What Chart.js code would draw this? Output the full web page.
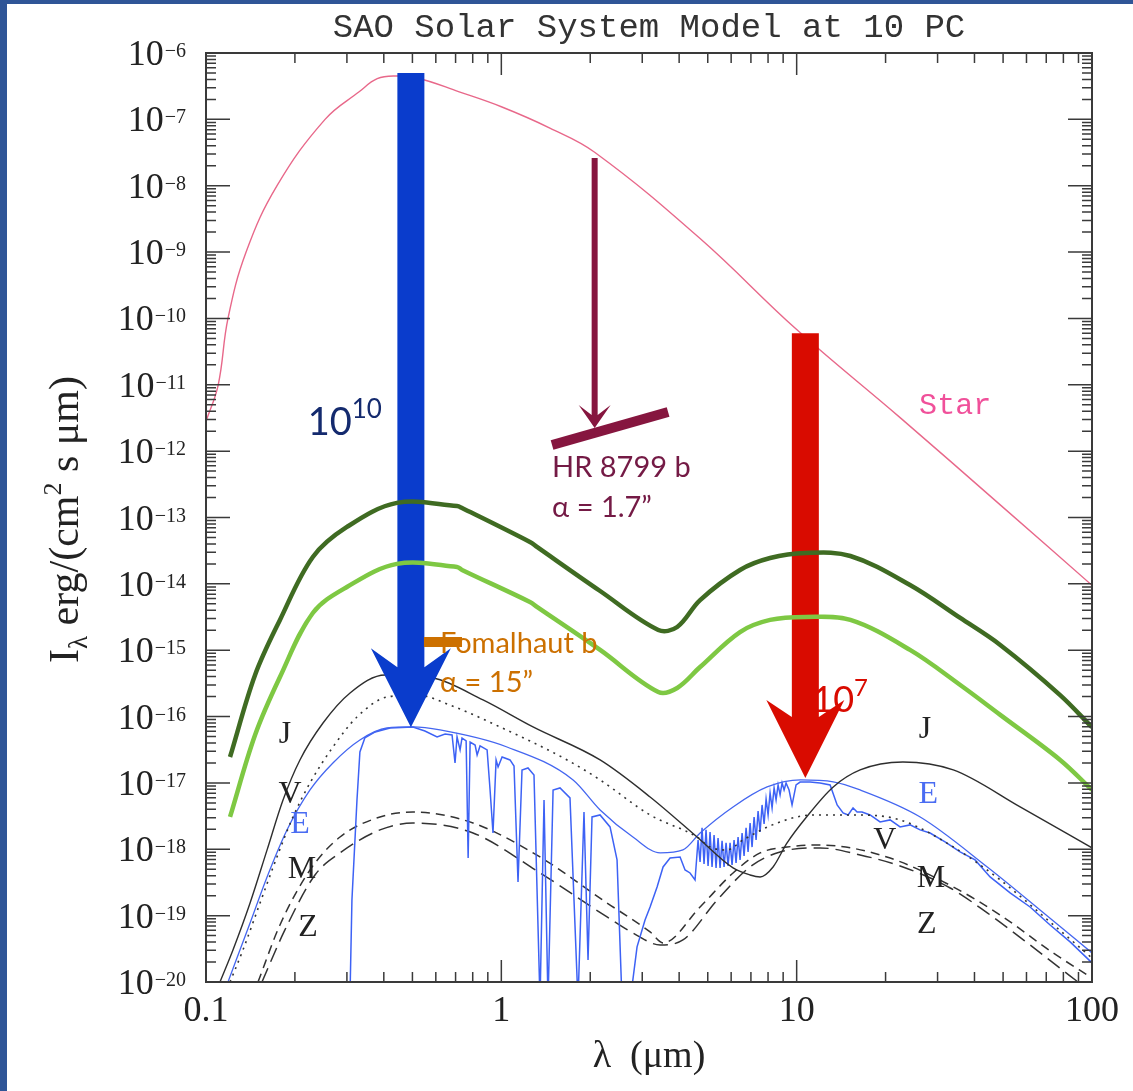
<!DOCTYPE html>
<html>
<head>
<meta charset="utf-8">
<title>SAO Solar System Model at 10 PC</title>
<script src="https://cdn.jsdelivr.net/npm/chart.js@4.4.1/dist/chart.umd.min.js"></script>
<style>
  html, body { margin: 0; padding: 0; background: #fff; }
  #wrap { position: relative; width: 1133px; height: 1091px; overflow: hidden; background: #fff; }
  #sedChart { position: absolute; left: 0; top: 0; }
  #edgeLeft { position: absolute; left: 0; top: 0; width: 7px; height: 1091px; background: #2f5597; }
  #edgeTop { position: absolute; left: 0; top: 0; width: 1133px; height: 4px; background: #2f5597; }
</style>
</head>
<body>
<div id="wrap">
  <canvas id="sedChart" width="1133" height="1091"></canvas>
  <div id="edgeLeft"></div>
  <div id="edgeTop"></div>
</div>
<script>
// axes
const xDecades = [0.1, 1, 10, 100];
const xTickLabels = ['0.1', '1', '10', '100'];
const yExponents = [-20, -19, -18, -17, -16, -15, -14, -13, -12, -11, -10, -9, -8, -7, -6];

// star (pink)
const starWl = [0.1, 0.11, 0.1187, 0.1367, 0.174, 0.253, 0.33, 0.38, 0.44, 0.52, 0.72, 1.0, 1.46, 2.07, 4.71, 10.0, 22.4, 48.9, 100];
const starFlux = [2.8e-12, 1.0e-11, 1.0e-10, 1.0e-9, 1.0e-8, 1.0e-7, 2.6e-7, 4.1e-7, 4.5e-7, 4.2e-7, 2.6e-7, 1.55e-7, 7.4e-8, 3.2e-8, 1.6e-9, 6.8e-11, 3.2e-12, 1.55e-13, 9.5e-15];

// overlay planet curves (green)
const greenWl = [0.1206, 0.1466, 0.178, 0.230, 0.300, 0.443, 0.708, 0.736, 1.25, 1.32, 2.16, 3.4, 3.94, 4.71, 6.43, 8.13, 10.7, 15.2, 24.2, 35.8, 48.9, 78.0, 100];
const darkGreenFlux = [2.46e-17, 4.24e-16, 2.86e-15, 2.54e-14, 7.2e-14, 1.66e-13, 1.49e-13, 1.39e-13, 4.28e-14, 3.6e-14, 7.8e-15, 2.02e-15, 2.24e-15, 5.7e-15, 1.62e-14, 2.45e-14, 2.92e-14, 2.63e-14, 9.6e-15, 3.06e-15, 1.2e-15, 2.11e-16, 6.9e-17];
const lightGreenFlux = [3.07e-18, 5.28e-17, 3.95e-16, 3.64e-15, 8.97e-15, 2.0e-14, 1.8e-14, 1.62e-14, 5.33e-15, 4.49e-15, 1.01e-15, 2.35e-16, 2.7e-16, 5.58e-16, 1.88e-15, 2.86e-15, 3.17e-15, 2.86e-15, 1.01e-15, 2.99e-16, 1.06e-16, 2.22e-17, 7.83e-18];

// J (solid)
const jupiterWl = [0.1115, 0.1234, 0.141, 0.161, 0.1823, 0.208, 0.249, 0.3074, 0.404, 0.587, 0.867, 1.28, 2.16, 3.19, 4.60, 6.09, 6.95, 7.52, 8.32, 9.28, 10.8, 13.3, 16.4, 22.9, 33.9, 57.1, 100];
const jupiterFlux = [1.0e-20, 3.04e-20, 1.55e-19, 9.8e-19, 5.53e-18, 2.22e-17, 8.0e-17, 2.27e-16, 4.24e-16, 3.82e-16, 1.78e-16, 6.97e-17, 2.22e-17, 6.14e-18, 1.53e-18, 5.23e-19, 4.1e-19, 3.83e-19, 5.42e-19, 1.25e-18, 3.07e-18, 8.7e-18, 1.57e-17, 2.07e-17, 1.57e-17, 4.35e-18, 1.05e-18];

// V (dotted)
const venusWl = [0.1206, 0.1334, 0.1524, 0.1739, 0.197, 0.225, 0.269, 0.3245, 0.41, 0.518, 0.670, 0.99, 1.67, 2.16, 3.19, 4.60, 5.09, 5.81, 6.58, 8.58, 11.4, 16.4, 22.4, 33.1, 48.9, 72.1, 100];
const venusFlux = [1.0e-20, 3.04e-20, 1.55e-19, 7.66e-19, 3.07e-18, 1.0e-17, 3.48e-17, 9.86e-17, 1.97e-16, 2.11e-16, 1.49e-16, 6.97e-17, 2.22e-17, 1.11e-17, 3.29e-18, 1.53e-18, 1.08e-18, 9.77e-19, 1.38e-18, 2.49e-18, 3.29e-18, 3.29e-18, 2.77e-18, 1.16e-18, 3.45e-19, 8.04e-20, 2.3e-20];

// E (blue, smooth envelope)
const earthWl = [0.1187, 0.141, 0.161, 0.188, 0.225, 0.269, 0.332, 0.41, 0.502, 0.62, 1.045, 1.75, 2.16, 2.79, 3.45, 4.12, 4.71, 6.09, 7.94, 10.3, 13.3, 16.4, 26.2, 44.2, 66.7, 100];
const earthFlux = [1.0e-20, 7.76e-20, 3.83e-19, 1.95e-18, 7.83e-18, 2.0e-17, 4.44e-17, 6.73e-17, 6.97e-17, 6.28e-17, 3.48e-17, 1.11e-17, 3.92e-18, 1.53e-18, 8.81e-19, 9.77e-19, 1.76e-18, 4.35e-18, 8.69e-18, 1.11e-17, 1.04e-17, 7.83e-18, 3.07e-18, 5.42e-19, 1.22e-19, 2.74e-20];

// E (blue, spectrum with absorption bands)
const earthSpecWl = [0.307, 0.312, 0.3245, 0.332, 0.345, 0.374, 0.42, 0.502, 0.551, 0.606,
  0.645, 0.681, 0.697, 0.708, 0.725, 0.736, 0.760, 0.772, 0.784, 0.815,
  0.828, 0.847, 0.895, 0.916, 0.937, 0.960, 0.975, 1.006, 1.07, 1.104,
  1.139, 1.175, 1.231, 1.29, 1.352, 1.395, 1.439, 1.497, 1.58, 1.708,
  1.818, 1.905, 1.966, 2.028, 2.159, 2.334, 2.465, 2.563, 2.728, 2.881,
  3.066, 3.189, 3.368, 3.529, 3.727, 4.029, 4.189, 4.355, 4.528, 4.636,
  4.709, 4.782, 4.857, 4.933, 5.012, 5.090, 5.170, 5.252, 5.334, 5.418,
  5.503, 5.590, 5.677, 5.767, 5.858, 5.949, 6.043, 6.138, 6.234, 6.333,
  6.432, 6.534, 6.636, 6.741, 6.847, 6.955, 7.063, 7.175, 7.288, 7.402,
  7.519, 7.636, 7.757, 7.879, 8.003, 8.128, 8.256, 8.386, 8.517, 8.651,
  8.787, 8.925, 9.065, 9.207, 9.424, 9.647, 9.954,
  10.27, 11.1, 12.0, 12.98, 13.71, 14.36, 14.93, 15.52, 16.02, 16.65,
  17.73, 19.16, 20.72, 22.4, 24.21, 26.18, 28.3, 31.8, 35.76, 40.19,
  45.18, 52.81, 61.72, 72.14, 84.31, 100];
const earthSpecFlux = [5e-21, 1.72e-19, 5.54e-18, 2.93e-17, 4.76e-17, 5.86e-17, 6.73e-17, 6.97e-17, 6.07e-17, 4.93e-17,
  5.47e-17, 5.28e-17, 2.0e-17, 4.93e-17, 3.14e-17, 4.76e-17, 4.29e-17, 7.41e-19, 4.14e-17, 3.73e-17,
  2.64e-17, 3.61e-17, 3.14e-17, 7.83e-18, 1.76e-18, 2.22e-17, 1.74e-17, 2.46e-17, 2.22e-17, 1.8e-17,
  3.22e-19, 1.57e-17, 1.68e-17, 1.32e-17, 5e-21, 5.54e-18, 5e-21, 7.83e-18, 8.4e-18, 5.94e-18,
  5e-21, 3.65e-18, 2.15e-20, 3.07e-18, 3.29e-18, 2.17e-18, 6.91e-19, 5e-21, 5e-21, 3.38e-20,
  8.61e-20, 1.35e-19, 2.71e-19, 5.42e-19, 7.41e-19, 7.66e-19, 4.88e-19, 4.4e-19, 3.45e-19, 1.38e-18,
  6.45e-19, 2.1e-18, 6.01e-19, 1.96e-18, 5.61e-19, 1.82e-18, 5.42e-19, 1.64e-18, 5.23e-19, 1.48e-18,
  5.23e-19, 1.34e-18, 5.42e-19, 1.25e-18, 5.61e-19, 1.25e-18, 5.81e-19, 1.38e-18, 6.22e-19, 1.53e-18,
  6.91e-19, 1.76e-18, 7.93e-19, 2.1e-18, 9.12e-19, 2.49e-18, 1.08e-18, 3.07e-18, 1.38e-18, 3.78e-18,
  1.82e-18, 4.66e-18, 2.41e-18, 5.73e-18, 3.29e-18, 7.06e-18, 4.2e-18, 8.4e-18, 5.54e-18, 9.32e-18,
  6.59e-18, 1.0e-17, 7.83e-18, 1.0e-17, 7.83e-18, 4.66e-18, 9.32e-18,
  1.03e-17, 1.03e-17, 1.0e-17, 9.32e-18, 4.66e-18, 3.53e-18, 3.29e-18, 4.2e-18, 3.65e-18, 3.65e-18,
  3.29e-18, 2.58e-18, 2.77e-18, 2.17e-18, 2.33e-18, 1.96e-18, 1.76e-18, 1.29e-18, 9.12e-19, 6.91e-19,
  3.83e-19, 2.2e-19, 1.35e-19, 7.24e-20, 4.02e-20, 1.94e-20];

// M (dashed) and Z (long dashed)
const marsWl = [0.15, 0.178, 0.225, 0.2843, 0.3883, 0.502, 0.802, 1.352, 2.28, 2.79, 3.19, 3.53, 4.71, 6.09, 7.52, 9.28, 12.0, 20.2, 33.9, 48.9, 73.9, 100];
const marsFlux = [1.0e-20, 7.24e-20, 4.88e-19, 1.53e-18, 3.07e-18, 3.65e-18, 2.49e-18, 7.66e-19, 1.55e-19, 8.61e-20, 5.68e-20, 3.88e-20, 1.35e-19, 4.4e-19, 8.81e-19, 1.08e-18, 1.16e-18, 7.66e-19, 2.71e-19, 1.02e-19, 2.74e-20, 1.15e-20];
const zodiWl = [0.1547, 0.185, 0.2339, 0.2843, 0.3883, 0.502, 0.802, 1.352, 2.28, 2.79, 3.45, 4.12, 5.38, 6.95, 8.79, 12.0, 16.4, 22.9, 33.1, 44.2, 61.7, 73.9, 89.7];
const zodiFlux = [1.0e-20, 6.09e-20, 4.1e-19, 8.81e-19, 1.96e-18, 2.49e-18, 1.76e-18, 4.4e-19, 9.56e-20, 5.48e-20, 3.62e-20, 4.3e-20, 1.72e-19, 5.42e-19, 9.12e-19, 1.05e-18, 8.22e-19, 5.42e-19, 2.61e-19, 1.1e-19, 3.62e-20, 1.94e-20, 1.0e-20];

// overlay arrows and markers (wavelength in um, flux in erg/(cm2 s um))
const blueArrow = { wl: 0.494, top: 5.0e-7, base: 1.07e-15, tip: 6.9e-17, color: '#0a3ccc', shaft: 27, head: 80, notch: 19 };
const redArrow = { wl: 10.7, top: 6.0e-11, base: 1.78e-16, tip: 1.19e-17, color: '#d90b00', shaft: 27, head: 78, notch: 17 };
const hrArrow = { wl: 2.07, top: 2.62e-8, base: 4.95e-12, tip: 2.23e-12, color: '#86163f', shaft: 6, head: 32, notch: 10 };
const hrBar = { wl: [1.485, 3.67], flux: [1.24e-12, 3.89e-12], color: '#86163f', width: 10 };
const fomBar = { wl: [0.547, 0.736], flux: [1.33e-15, 1.33e-15], color: '#cc7000', width: 10 };

const notes = [
  { wl: 0.221, flux: 1.75e-12, color: '#142a6e', runs: [['10', 38, 0], ['10', 26, -17]] },
  { wl: 11.3, flux: 1.17e-16, color: '#d90b00', runs: [['10', 36, 0], ['7', 24, -16]] },
  { wl: 1.485, flux: 4.08e-13, color: '#741a45', runs: [['HR 8799 b', 29, 0]] },
  { wl: 1.485, flux: 1.02e-13, color: '#741a45', runs: [['\u03b1 = 1.7\u201d', 29, 0]] },
  { wl: 0.62, flux: 9.1e-16, color: '#cc7000', runs: [['Fomalhaut b', 29, 0]] },
  { wl: 0.62, flux: 2.35e-16, color: '#cc7000', runs: [['\u03b1 = 15\u201d', 29, 0]] }
];

const curveLabels = [
  { text: 'J', wl: 0.185, flux: 5.28e-17, color: '#222' },
  { text: 'V', wl: 0.1925, flux: 6.59e-18, color: '#222' },
  { text: 'E', wl: 0.208, flux: 2.33e-18, color: '#4a6cf2' },
  { text: 'M', wl: 0.2114, flux: 4.89e-19, color: '#222' },
  { text: 'Z', wl: 0.2214, flux: 6.53e-20, color: '#222' },
  { text: 'J', wl: 27.2, flux: 6.28e-17, color: '#222' },
  { text: 'E', wl: 27.9, flux: 6.59e-18, color: '#4a6cf2' },
  { text: 'V', wl: 19.9, flux: 1.34e-18, color: '#222' },
  { text: 'M', wl: 28.5, flux: 3.57e-19, color: '#222' },
  { text: 'Z', wl: 27.6, flux: 7.24e-20, color: '#222' }
];
const starLabel = { text: 'Star', wl: 34.4, flux: 4.8e-12, color: '#f0509a' };

function pts(wl, flux) {
    return wl.map((w, i) => ({ x: w, y: flux[i] }));
}

function curve(label, wl, flux, style) {
    return Object.assign({
        label: label,
        data: pts(wl, flux),
        showLine: true,
        pointRadius: 0,
        borderWidth: 1.3,
        fill: false
    }, style);
}

// draw a block arrow (shaft + notched head)
function drawBlockArrow(ctx, xs, ys, a) {
    const x = xs.getPixelForValue(a.wl);
    const yTop = ys.getPixelForValue(a.top);
    const yBase = ys.getPixelForValue(a.base);
    const yTip = ys.getPixelForValue(a.tip);
    const yJoin = yBase + a.notch;
    ctx.fillStyle = a.color;
    ctx.beginPath();
    ctx.moveTo(x - a.shaft / 2, yTop);
    ctx.lineTo(x + a.shaft / 2, yTop);
    ctx.lineTo(x + a.shaft / 2, yJoin);
    ctx.lineTo(x + a.head / 2, yBase);
    ctx.lineTo(x, yTip);
    ctx.lineTo(x - a.head / 2, yBase);
    ctx.lineTo(x - a.shaft / 2, yJoin);
    ctx.closePath();
    ctx.fill();
}

function drawBar(ctx, xs, ys, b) {
    ctx.strokeStyle = b.color;
    ctx.lineWidth = b.width;
    ctx.lineCap = 'butt';
    ctx.beginPath();
    ctx.moveTo(xs.getPixelForValue(b.wl[0]), ys.getPixelForValue(b.flux[0]));
    ctx.lineTo(xs.getPixelForValue(b.wl[1]), ys.getPixelForValue(b.flux[1]));
    ctx.stroke();
}

// text made of runs [text, size, dy]
function drawRuns(ctx, x, y, runs, family) {
    runs.forEach(r => {
        ctx.font = r[1] + 'px ' + family;
        ctx.fillText(r[0], x, y + r[2]);
        x += ctx.measureText(r[0]).width;
    });
}

function runsWidth(ctx, runs, family) {
    let w = 0;
    runs.forEach(r => {
        ctx.font = r[1] + 'px ' + family;
        w += ctx.measureText(r[0]).width;
    });
    return w;
}

const decor = {
    id: 'decor',
    afterDatasetDraw(chart, args) {
        // arrows sit above the model curves but under the green overlays
        if (args.index !== 2) return;
        const ctx = chart.ctx, xs = chart.scales.x, ys = chart.scales.y;
        ctx.save();
        drawBlockArrow(ctx, xs, ys, blueArrow);
        drawBlockArrow(ctx, xs, ys, redArrow);
        ctx.restore();
    },
    afterDraw(chart) {
        const ctx = chart.ctx, xs = chart.scales.x, ys = chart.scales.y;
        const ca = chart.chartArea;
        ctx.save();

        // frame
        ctx.strokeStyle = '#3a3a3a';
        ctx.lineWidth = 2;
        ctx.strokeRect(ca.left, ca.top, ca.right - ca.left, ca.bottom - ca.top);

        // inward ticks on all sides
        ctx.lineWidth = 1.5;
        ctx.beginPath();
        xDecades.forEach(d => {
            for (let k = 1; k <= 9; k++) {
                const v = d * k;
                if (v > 100.0001) break;
                const x = xs.getPixelForValue(v);
                const len = k === 1 ? 22 : 10;
                ctx.moveTo(x, ca.bottom); ctx.lineTo(x, ca.bottom - len);
                ctx.moveTo(x, ca.top); ctx.lineTo(x, ca.top + len);
            }
        });
        yExponents.forEach(e => {
            for (let k = 1; k <= 9; k++) {
                if (e === -6 && k > 1) break;
                const y = ys.getPixelForValue(k * Math.pow(10, e));
                const len = k === 1 ? 24 : 10;
                ctx.moveTo(ca.left, y); ctx.lineTo(ca.left + len, y);
                ctx.moveTo(ca.right, y); ctx.lineTo(ca.right - len, y);
            }
        });
        ctx.stroke();

        // y tick labels 10^-n
        ctx.fillStyle = '#222';
        ctx.textBaseline = 'alphabetic';
        ctx.textAlign = 'right';
        yExponents.forEach(e => {
            const y = ys.getPixelForValue(Math.pow(10, e));
            const sup = '\u2212' + Math.abs(e);
            ctx.font = '20px "Liberation Serif"';
            const sw = ctx.measureText(sup).width;
            ctx.fillText(sup, 186, y + 4);
            ctx.font = '36px "Liberation Serif"';
            ctx.fillText('10', 185 - sw, y + 12);
        });

        // axis titles
        ctx.textAlign = 'center';
        ctx.textBaseline = 'middle';
        ctx.font = '38px "Liberation Serif"';
        ctx.fillText('\u03bb  (\u03bcm)', (ca.left + ca.right) / 2, 1057);

        const yTitle = [['I', 42, 0], ['\u03bb', 27, 9], [' erg/(cm', 42, 0], ['2', 26, -17], [' s \u03bcm)', 42, 0]];
        ctx.save();
        ctx.translate(78, (ca.top + ca.bottom) / 2 + 2);
        ctx.rotate(-Math.PI / 2);
        ctx.textAlign = 'left';
        ctx.textBaseline = 'alphabetic';
        const tw = runsWidth(ctx, yTitle, '"Liberation Serif"');
        drawRuns(ctx, -tw / 2, 0, yTitle, '"Liberation Serif"');
        ctx.restore();

        // title
        ctx.fillStyle = '#333';
        ctx.textAlign = 'center';
        ctx.textBaseline = 'middle';
        ctx.font = '34px "Liberation Mono"';
        ctx.fillText('SAO Solar System Model at 10 PC', (ca.left + ca.right) / 2, 28);

        // curve labels
        ctx.font = '32px "Liberation Serif"';
        curveLabels.forEach(l => {
            ctx.fillStyle = l.color;
            ctx.fillText(l.text, xs.getPixelForValue(l.wl), ys.getPixelForValue(l.flux));
        });
        ctx.fillStyle = starLabel.color;
        ctx.font = '30px "Liberation Mono"';
        ctx.fillText(starLabel.text, xs.getPixelForValue(starLabel.wl), ys.getPixelForValue(starLabel.flux));

        // HR 8799 b and Fomalhaut b markers
        drawBlockArrow(ctx, xs, ys, hrArrow);
        drawBar(ctx, xs, ys, hrBar);
        drawBar(ctx, xs, ys, fomBar);

        // notes
        ctx.textAlign = 'left';
        ctx.textBaseline = 'alphabetic';
        notes.forEach(n => {
            ctx.fillStyle = n.color;
            drawRuns(ctx, xs.getPixelForValue(n.wl), ys.getPixelForValue(n.flux), n.runs, 'Lato');
        });

        ctx.restore();
    }
};

let sedChart;

function initializeChart() {
    const ctx = document.getElementById('sedChart').getContext('2d');
    sedChart = new Chart(ctx, {
        type: 'scatter',
        data: {
            datasets: [
                curve('Planet (dark)', greenWl, darkGreenFlux, { borderColor: '#3f6b22', borderWidth: 4.5, tension: 0.35 }),
                curve('Planet (light)', greenWl, lightGreenFlux, { borderColor: '#7ec843', borderWidth: 4.5, tension: 0.35 }),
                curve('Star', starWl, starFlux, { borderColor: '#e8688a', borderWidth: 1.4, tension: 0.4 }),
                curve('J', jupiterWl, jupiterFlux, { borderColor: '#2e2e2e', borderWidth: 1.4, cubicInterpolationMode: 'monotone' }),
                curve('V', venusWl, venusFlux, { borderColor: '#333', borderWidth: 1.6, borderDash: [2, 5], cubicInterpolationMode: 'monotone' }),
                curve('E', earthWl, earthFlux, { borderColor: '#4466f0', borderWidth: 1.3, cubicInterpolationMode: 'monotone' }),
                curve('E spectrum', earthSpecWl, earthSpecFlux, { borderColor: '#3d62f5', borderWidth: 1.5 }),
                curve('M', marsWl, marsFlux, { borderColor: '#333', borderWidth: 1.5, borderDash: [9, 6], cubicInterpolationMode: 'monotone' }),
                curve('Z', zodiWl, zodiFlux, { borderColor: '#333', borderWidth: 1.5, borderDash: [15, 7], cubicInterpolationMode: 'monotone' })
            ]
        },
        options: {
            responsive: false,
            animation: false,
            layout: { padding: { top: 53, right: 41, bottom: 0, left: 0 } },
            plugins: {
                legend: { display: false },
                tooltip: { enabled: false }
            },
            scales: {
                x: {
                    type: 'logarithmic',
                    min: 0.1,
                    max: 100,
                    grid: { display: false, drawTicks: false },
                    border: { display: false },
                    afterBuildTicks: s => { s.ticks = xDecades.map(v => ({ value: v })); },
                    afterFit: s => { s.height = 109; },
                    ticks: {
                        autoSkip: false,
                        maxRotation: 0,
                        padding: 8,
                        color: '#222',
                        font: { family: 'Liberation Serif', size: 36 },
                        callback: (v, i) => xTickLabels[i]
                    }
                },
                y: {
                    type: 'logarithmic',
                    min: 1e-20,
                    max: 1e-6,
                    grid: { display: false, drawTicks: false },
                    border: { display: false },
                    afterBuildTicks: s => { s.ticks = yExponents.map(e => ({ value: Math.pow(10, e) })); },
                    afterFit: s => { s.width = 206; },
                    ticks: { display: false }
                }
            }
        },
        plugins: [decor]
    });
}

document.addEventListener('DOMContentLoaded', initializeChart);
</script>
</body>
</html>
